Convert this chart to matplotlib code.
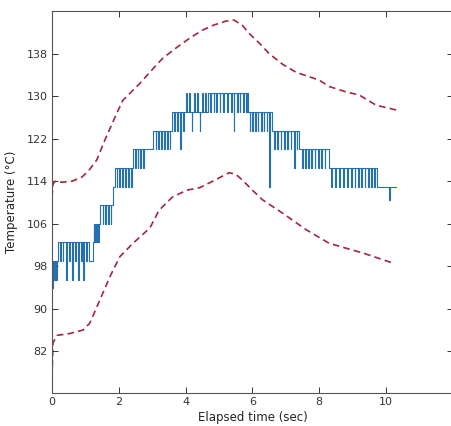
import matplotlib.pyplot as plt

# measured temperature (quantised sensor), time in sec
t_meas = [0.00, 0.02, 0.06, 0.08, 0.12, 0.14,
          0.18, 0.24, 0.26, 0.32, 0.34, 0.42, 0.46, 0.52, 0.54, 0.60, 0.64, 0.70, 0.72,
          0.77, 0.81, 0.87, 0.89, 0.92, 0.96, 1.02, 1.04, 1.10,
          1.22, 1.25, 1.27, 1.30, 1.32, 1.35, 1.37, 1.40,
          1.45, 1.52, 1.54, 1.60, 1.62, 1.68, 1.70, 1.76, 1.78, 1.82,
          1.88, 1.94, 1.96, 2.02, 2.04, 2.10, 2.12, 2.18, 2.20, 2.28, 2.30, 2.36, 2.38,
          2.42, 2.48, 2.50, 2.56, 2.58, 2.64, 2.66, 2.72, 2.74,
          3.02, 3.10, 3.12, 3.18, 3.20, 3.27, 3.29, 3.36, 3.38, 3.45, 3.47, 3.52, 3.54,
          3.60, 3.66, 3.68, 3.74, 3.76, 3.84, 3.86, 3.92, 3.94,
          4.02, 4.04, 4.10, 4.12, 4.18, 4.20, 4.26, 4.28, 4.34, 4.36, 4.42, 4.44, 4.50,
          4.52, 4.58, 4.60, 4.66,
          4.74, 4.76, 4.84, 4.86, 4.92, 4.94, 5.02, 5.04, 5.12, 5.14, 5.24, 5.26, 5.36,
          5.38, 5.44, 5.46, 5.54, 5.56, 5.62, 5.64, 5.72, 5.74,
          5.80, 5.84, 5.86, 5.92, 5.94, 6.00, 6.02, 6.08, 6.10, 6.16, 6.18, 6.26, 6.28,
          6.34, 6.36, 6.42, 6.44, 6.50, 6.52,
          6.58, 6.64, 6.66, 6.74, 6.76, 6.84, 6.86, 6.94, 6.96, 7.04, 7.06, 7.14, 7.16,
          7.24, 7.26, 7.32, 7.34,
          7.40, 7.48, 7.50, 7.58, 7.60, 7.66, 7.68, 7.76, 7.78, 7.86, 7.88, 7.96, 7.98,
          8.06, 8.08, 8.16, 8.18,
          8.28, 8.36, 8.38, 8.48, 8.50, 8.60, 8.62, 8.72, 8.74, 8.84, 8.86, 8.96, 8.98,
          9.06, 9.08, 9.16, 9.18, 9.26, 9.28, 9.36, 9.38, 9.46, 9.48, 9.56, 9.58, 9.64,
          9.66,
          9.74, 10.10, 10.12, 10.30]
temp_meas = [94.0, 99.0, 95.5, 99.0, 95.5, 99.0,
             102.5, 99, 102.5, 99, 102.5, 95.5, 102.5, 99, 102.5, 95.5, 102.5, 99, 102.5,
             95.5, 102.5, 99, 102.5, 95.5, 102.5, 99, 102.5, 99,
             102.5, 106, 102.5, 106, 102.5, 106, 102.5, 106,
             109.5, 106, 109.5, 106, 109.5, 106, 109.5, 106, 109.5, 113,
             116.5, 113, 116.5, 113, 116.5, 113, 116.5, 113, 116.5, 113, 116.5, 113, 116.5,
             120, 116.5, 120, 116.5, 120, 116.5, 120, 116.5, 120,
             123.5, 120, 123.5, 120, 123.5, 120, 123.5, 120, 123.5, 120, 123.5, 120, 123.5,
             127, 123.5, 127, 123.5, 127, 120, 127, 123.5, 127,
             130.5, 127, 130.5, 127, 123.5, 127, 130.5, 127, 130.5, 127, 123.5, 127, 130.5,
             127, 130.5, 127, 130.5,
             127, 130.5, 127, 130.5, 127, 130.5, 127, 130.5, 127, 130.5, 127, 130.5, 127,
             130.5, 123.5, 130.5, 127, 130.5, 127, 130.5, 127, 130.5,
             127, 130.5, 127, 123.5, 127, 123.5, 127, 123.5, 127, 123.5, 127, 123.5, 127,
             123.5, 127, 123.5, 127, 113, 127,
             123.5, 120, 123.5, 120, 123.5, 120, 123.5, 120, 123.5, 120, 123.5, 120, 123.5,
             116.5, 123.5, 120, 123.5,
             120, 116.5, 120, 116.5, 120, 116.5, 120, 116.5, 120, 116.5, 120, 116.5, 120,
             116.5, 120, 116.5, 120,
             116.5, 113, 116.5, 113, 116.5, 113, 116.5, 113, 116.5, 113, 116.5, 113, 116.5,
             113, 116.5, 113, 116.5, 113, 116.5, 113, 116.5, 113, 116.5, 113, 116.5, 113,
             116.5,
             113, 110.5, 113, 113]

# upper / lower bounds (dashed)
t_upper = [0.0, 0.03, 0.1, 0.3, 0.6, 0.9, 1.1, 1.34, 1.6, 1.94, 2.12, 2.63, 3.0, 3.31,
           3.7, 4.12, 4.5, 4.81, 5.2, 5.45, 5.7, 5.9, 6.2, 6.5, 6.9, 7.3, 8.0, 8.3,
           8.8, 9.2, 9.7, 10.3]
temp_upper = [111, 113.5, 114, 113.8, 114, 114.8, 116, 118, 122, 126.8, 129.2, 132.4,
              135, 137.1, 139, 140.9, 142.4, 143.3, 144.1, 144.3, 143.3, 141.8, 140,
              138, 136, 134.5, 133, 131.8, 130.8, 130.2, 128.3, 127.4]
t_lower = [0.0, 0.03, 0.15, 0.5, 0.93, 1.13, 1.34, 1.73, 2.03, 2.42, 2.93, 3.2, 3.6,
           4.03, 4.43, 4.81, 5.3, 5.5, 5.7, 6.0, 6.3, 6.9, 7.6, 8.3, 9.3, 10.2]
temp_lower = [77, 83.6, 85, 85.3, 86, 87.3, 90.3, 96, 99.8, 102.3, 105.2, 108.5, 111,
              112.3, 112.8, 114, 115.6, 115.3, 114.2, 112.3, 110.5, 108, 104.9, 102.3,
              100.5, 98.6]

xticks = [0, 2, 4, 6, 8, 10]
yticks = [82, 90, 98, 106, 114, 122, 130, 138]

plt.rcParams['font.family'] = ['Liberation Sans Narrow', 'DejaVu Sans']

fig = plt.figure(figsize=(4.51, 4.26), dpi=100)
ax = fig.add_axes([0.1153, 0.078, 0.889, 0.896])

ax.plot(t_upper, temp_upper, color='#a3263f', lw=1.2, ls=(0, (4, 2.5)))
ax.plot(t_lower, temp_lower, color='#a3263f', lw=1.2, ls=(0, (4, 2.5)))
ax.plot(t_meas, temp_meas, color='#2470b0', lw=0.8, drawstyle='steps-post')

ax.set_xlim(0, 12)
ax.set_ylim(74.2, 146)
ax.set_xticks(xticks)
ax.set_yticks(yticks)
ax.tick_params(direction='in', top=True, right=True, labelsize=8, length=4,
               width=0.7, colors='#333333', pad=3)
for s in ax.spines.values():
    s.set_color('#555555')
    s.set_linewidth(0.8)

ax.set_xlabel('Elapsed time (sec)', fontsize=8.5, color='#222222', labelpad=3)
ax.set_ylabel('Temperature (°C)', fontsize=8.5, color='#222222', labelpad=6)

fig.savefig('out.png', dpi=100)
